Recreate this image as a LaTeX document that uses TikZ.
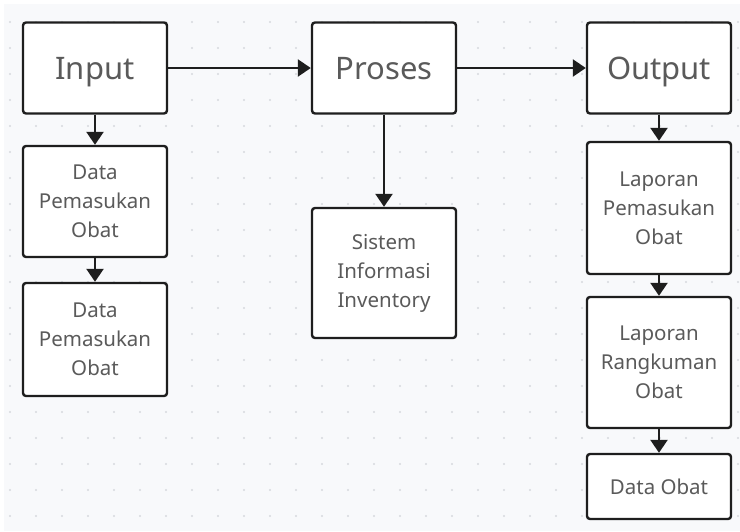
\documentclass[tikz,border=0pt]{standalone}
\usepackage{fontspec}
\setmainfont{Noto Sans}
\usetikzlibrary{arrows.meta}
\definecolor{panel}{HTML}{F8F9FB}
\definecolor{dotc}{HTML}{D6D9DD}
\definecolor{txt}{HTML}{5A5A5A}
\definecolor{edge}{HTML}{1E1E1E}
\tikzset{
  box/.style={draw=edge, line width=2.4pt, rounded corners=3pt, fill=white,
    text=txt, align=center, minimum width=144pt, inner sep=0pt},
  bigbox/.style={box, minimum height=91pt, text depth=0pt, font=\fontsize{31}{36}\selectfont},
  smallbox/.style={box, font=\fontsize{20.5}{29}\selectfont},
  flow/.style={draw=edge, line width=2.4pt, -{Triangle[length=13pt,width=17pt]}}
}
\begin{document}
\begin{tikzpicture}[x=1pt,y=-1pt]
  \useasboundingbox (0,0) rectangle (740,531);
  % canvas panel and dotted grid
  \fill[panel] (4,4) rectangle (740,531);
  \foreach \gx in {10,36,...,740}{
    \foreach \gy in {22,48,...,531}{
      \fill[dotc] (\gx,\gy) circle (1.2pt);
    }
  }
  % main stages
  \node[bigbox] (input)  at (95,68)  {Input};
  \node[bigbox] (proses) at (384,68) {Proses};
  \node[bigbox] (output) at (659,68) {Output};
  % input column
  \node[smallbox, minimum height=111pt] (dp1) at (95,201.5) {Data\\Pemasukan\\Obat};
  \node[smallbox, minimum height=113pt] (dp2) at (95,339.5) {Data\\Pemasukan\\Obat};
  % process column
  \node[smallbox, minimum height=130pt] (sii) at (384,273) {Sistem\\Informasi\\Inventory};
  % output column
  \node[smallbox, minimum height=132pt] (lpo) at (659,208) {Laporan\\Pemasukan\\Obat};
  \node[smallbox, minimum height=131pt] (lro) at (659,362.5) {Laporan\\Rangkuman\\Obat};
  \node[smallbox, minimum height=65pt] (dob) at (659,486.5) {Data Obat};
  % connectors
  \draw[flow] (input) -- (proses);
  \draw[flow] (proses) -- (output);
  \draw[flow] (input) -- (dp1);
  \draw[flow] (dp1) -- (dp2);
  \draw[flow] (proses) -- (sii);
  \draw[flow] (output) -- (lpo);
  \draw[flow] (lpo) -- (lro);
  \draw[flow] (lro) -- (dob);
\end{tikzpicture}
\end{document}
